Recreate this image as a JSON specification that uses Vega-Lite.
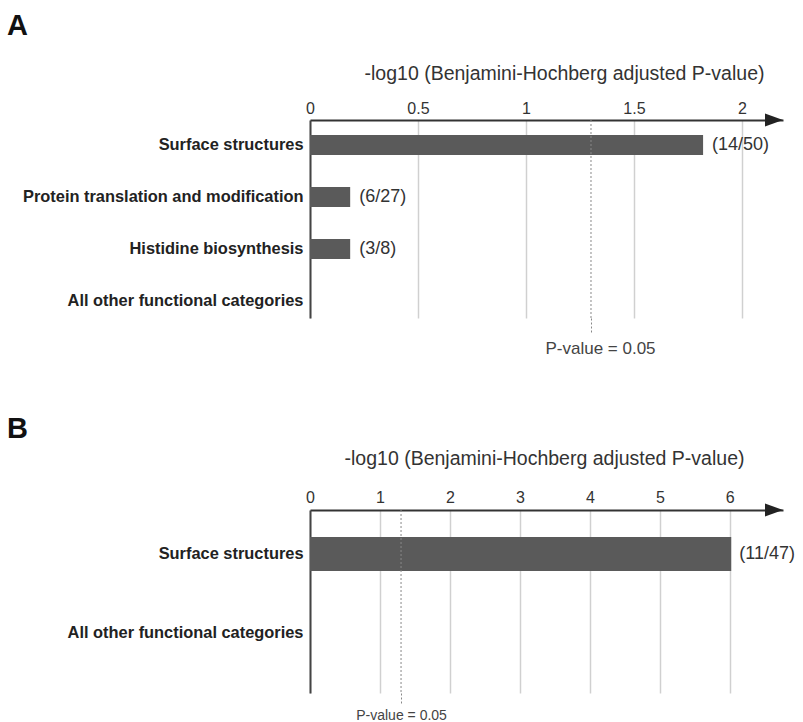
{
  "$schema": "https://vega.github.io/schema/vega-lite/v6.json",
  "background": "white",
  "padding": {"left": 7, "top": 12, "right": 5, "bottom": 5},
  "spacing": 59,
  "config": {"view": {"stroke": null}, "font": "Liberation Sans"},
  "vconcat": [
    {
      "title": {"text": "A", "anchor": "start", "frame": "group", "dx": -303, "fontSize": 29, "fontWeight": "bold", "color": "#111", "offset": -1, "baseline": "alphabetic"},
      "width": 473,
      "height": 198,
      "data": {"values": [
        {"category": "Surface structures", "value": 1.82, "ratio": "(14/50)"},
        {"category": "Protein translation and modification", "value": 0.186, "ratio": "(6/27)"},
        {"category": "Histidine biosynthesis", "value": 0.186, "ratio": "(3/8)"},
        {"category": "All other functional categories", "value": null, "ratio": null}
      ]},
      "layer": [
        {
          "mark": {"type": "bar", "color": "#5a5a5a"},
          "encoding": {
            "y": {"field": "category", "type": "nominal", "sort": null,
              "scale": {"domain": ["Surface structures", "Protein translation and modification", "Histidine biosynthesis", "All other functional categories"], "paddingInner": 0.615, "paddingOuter": 0.2115, "align": 0.68},
              "axis": {"title": null, "labelFontSize": 16.4, "labelFontWeight": "bold", "labelColor": "#222", "ticks": false, "labelPadding": 7, "domainColor": "#444", "domainWidth": 2, "labelLimit": 400}},
            "x": {"field": "value", "type": "quantitative",
              "scale": {"domain": [0, 2.19], "nice": false, "zero": true},
              "axis": {"orient": "top", "values": [0, 0.5, 1, 1.5, 2], "format": "~g", "title": "-log10 (Benjamini-Hochberg adjusted P-value)", "titleFontSize": 19.5, "titleFontWeight": "normal", "titleColor": "#333", "titlePadding": 17, "titleX": 254, "labelFontSize": 16, "labelColor": "#333", "labelPadding": 4, "ticks": false, "domainColor": "#333", "domainWidth": 1.8, "grid": true, "gridColor": "#d0d0d0", "gridWidth": 1.5, "labelFlush": false, "labelOverlap": false}}
          }
        },
        {
          "mark": {"type": "text", "align": "left", "baseline": "middle", "dx": 9, "fontSize": 18, "color": "#333"},
          "encoding": {
            "y": {"field": "category", "type": "nominal", "sort": null},
            "x": {"field": "value", "type": "quantitative", "scale": {"domain": [0, 2.19], "nice": false}, "axis": null},
            "text": {"field": "ratio"}
          }
        },
        {
          "data": {"values": [{"p": 0.05}]},
          "mark": {"type": "rule", "strokeDash": [2, 2], "color": "#888", "strokeWidth": 1},
          "encoding": {
            "x": {"datum": 1.30103, "type": "quantitative", "scale": {"domain": [0, 2.19], "nice": false},
              "axis": {"orient": "bottom", "values": [1.30103], "labelExpr": "'P-value = 0.05'", "domain": false, "grid": false, "ticks": true, "tickSize": 15, "tickColor": "#888", "tickDash": [2, 2], "tickWidth": 1, "labelFontSize": 17, "labelColor": "#444", "labelPadding": 7, "title": null, "labelOffset": 9, "labelFlush": false}}
          }
        },
        {
          "data": {"values": [{"p": 0.05}]},
          "mark": {"type": "point", "shape": "M -2 -0.72 L 0 0 L -2 0.72 Z", "filled": true, "size": 324, "color": "#222", "opacity": 1},
          "encoding": {
            "x": {"datum": 2.19, "type": "quantitative", "scale": {"domain": [0, 2.19], "nice": false}, "axis": null},
            "y": {"value": 0}
          }
        }
      ],
      "resolve": {"axis": {"x": "independent"}}
    },
    {
      "title": {"text": "B", "anchor": "start", "frame": "group", "dx": -303, "fontSize": 29, "fontWeight": "bold", "color": "#111", "offset": -19, "baseline": "alphabetic"},
      "width": 473,
      "height": 183,
      "data": {"values": [
        {"category": "Surface structures", "value": 6.02, "ratio": "(11/47)"},
        {"category": "All other functional categories", "value": null, "ratio": null}
      ]},
      "layer": [
        {
          "mark": {"type": "bar", "color": "#5a5a5a"},
          "encoding": {
            "y": {"field": "category", "type": "nominal", "sort": null,
              "scale": {"domain": ["Surface structures", "All other functional categories"], "paddingInner": 0.57, "paddingOuter": 0.443, "align": 0.386},
              "axis": {"title": null, "labelFontSize": 16.4, "labelFontWeight": "bold", "labelColor": "#222", "ticks": false, "labelPadding": 7, "domainColor": "#444", "domainWidth": 2, "labelLimit": 400}},
            "x": {"field": "value", "type": "quantitative",
              "scale": {"domain": [0, 6.76], "nice": false, "zero": true},
              "axis": {"orient": "top", "values": [0, 1, 2, 3, 4, 5, 6], "format": "~g", "title": "-log10 (Benjamini-Hochberg adjusted P-value)", "titleFontSize": 19.5, "titleFontWeight": "normal", "titleColor": "#333", "titlePadding": 21, "titleX": 234, "labelFontSize": 16, "labelColor": "#333", "labelPadding": 5, "ticks": false, "domainColor": "#333", "domainWidth": 1.8, "grid": true, "gridColor": "#d0d0d0", "gridWidth": 1.5, "labelFlush": false, "labelOverlap": false}}
          }
        },
        {
          "mark": {"type": "text", "align": "left", "baseline": "middle", "dx": 8, "fontSize": 18, "color": "#333"},
          "encoding": {
            "y": {"field": "category", "type": "nominal", "sort": null},
            "x": {"field": "value", "type": "quantitative", "scale": {"domain": [0, 6.76], "nice": false}, "axis": null},
            "text": {"field": "ratio"}
          }
        },
        {
          "data": {"values": [{"p": 0.05}]},
          "mark": {"type": "rule", "strokeDash": [2, 2], "color": "#888", "strokeWidth": 1},
          "encoding": {
            "x": {"datum": 1.30103, "type": "quantitative", "scale": {"domain": [0, 6.76], "nice": false},
              "axis": {"orient": "bottom", "values": [1.30103], "labelExpr": "'P-value = 0.05'", "domain": false, "grid": false, "ticks": true, "tickSize": 10, "tickColor": "#888", "tickDash": [2, 2], "tickWidth": 1, "labelFontSize": 14, "labelColor": "#444", "labelPadding": 5, "title": null, "labelFlush": false}}
          }
        },
        {
          "data": {"values": [{"p": 0.05}]},
          "mark": {"type": "point", "shape": "M -2 -0.72 L 0 0 L -2 0.72 Z", "filled": true, "size": 324, "color": "#222", "opacity": 1},
          "encoding": {
            "x": {"datum": 6.76, "type": "quantitative", "scale": {"domain": [0, 6.76], "nice": false}, "axis": null},
            "y": {"value": 0}
          }
        }
      ],
      "resolve": {"axis": {"x": "independent"}}
    }
  ]
}
